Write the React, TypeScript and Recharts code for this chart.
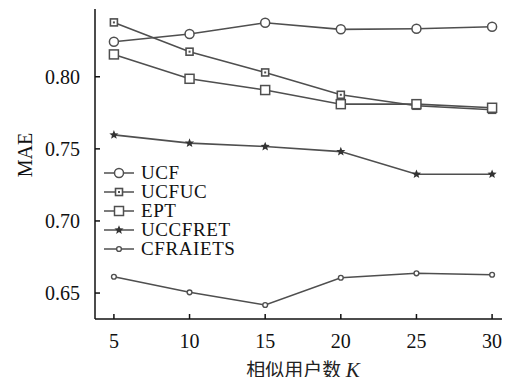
import React from "react";
import { LineChart, Line, XAxis, YAxis, Legend } from "recharts";

const kValues = [5, 10, 15, 20, 25, 30];
const ucf = [0.8243, 0.8297, 0.8375, 0.8329, 0.8333, 0.8347];
const ucfuc = [0.8377, 0.8174, 0.803, 0.7875, 0.7799, 0.7771];
const ept = [0.8155, 0.7986, 0.7908, 0.781, 0.781, 0.7785];
const uccfret = [0.7597, 0.754, 0.7516, 0.7481, 0.7324, 0.7324];
const cfraiets = [0.6613, 0.6505, 0.6417, 0.6606, 0.6637, 0.6627];

const yTicks = [0.65, 0.7, 0.75, 0.8];

type MarkerKind = "circle" | "boxdot" | "square" | "star" | "small";

const seriesList: { key: string; name: string; values: number[]; marker: MarkerKind }[] = [
  { key: "ucf", name: "UCF", values: ucf, marker: "circle" },
  { key: "ucfuc", name: "UCFUC", values: ucfuc, marker: "boxdot" },
  { key: "ept", name: "EPT", values: ept, marker: "square" },
  { key: "uccfret", name: "UCCFRET", values: uccfret, marker: "star" },
  { key: "cfraiets", name: "CFRAIETS", values: cfraiets, marker: "small" },
];

const data = kValues.map((k, i) => {
  const row: Record<string, number> = { k };
  seriesList.forEach((s) => {
    row[s.key] = s.values[i];
  });
  return row;
});

const LINE = "#4f4f4f";
const SERIF = "'Liberation Serif', 'Times New Roman', serif";

function starPath(cx: number, cy: number, ro: number, ri: number) {
  const pts: string[] = [];
  for (let i = 0; i < 10; i++) {
    const r = i % 2 === 0 ? ro : ri;
    const a = -Math.PI / 2 + (i * Math.PI) / 5;
    pts.push(`${cx + r * Math.cos(a)},${cy + r * Math.sin(a)}`);
  }
  return `M${pts.join("L")}Z`;
}

function Marker({ cx, cy, kind }: { cx: number; cy: number; kind: MarkerKind }) {
  switch (kind) {
    case "circle":
      return <circle cx={cx} cy={cy} r={4.5} fill="#fff" stroke={LINE} strokeWidth={1.5} />;
    case "boxdot":
      return (
        <g>
          <rect x={cx - 3.5} y={cy - 3.5} width={7} height={7} fill="#fff" stroke={LINE} strokeWidth={1.6} />
          <rect x={cx - 1} y={cy - 1} width={2} height={2} fill={LINE} />
        </g>
      );
    case "square":
      return <rect x={cx - 4.5} y={cy - 4.5} width={9} height={9} fill="#fff" stroke={LINE} strokeWidth={1.5} />;
    case "star":
      return <path d={starPath(cx, cy, 4.8, 2.1)} fill="#333" />;
    default:
      return <circle cx={cx} cy={cy} r={2.4} fill="#fff" stroke={LINE} strokeWidth={1.4} />;
  }
}

function LegendBox() {
  return (
    <div style={{ fontFamily: SERIF, fontSize: 19, color: "#111", textAlign: "left" }}>
      {seriesList.map((s) => (
        <div key={s.key} style={{ display: "flex", alignItems: "center", height: 19 }}>
          <svg width={36} height={12} style={{ marginRight: 3 }}>
            <line x1={2} y1={6} x2={32} y2={6} stroke={LINE} strokeWidth={1.5} />
            <Marker cx={17} cy={6} kind={s.marker} />
          </svg>
          <span style={{ lineHeight: "19px", letterSpacing: 0.6 }}>{s.name}</span>
        </div>
      ))}
    </div>
  );
}

export default function App() {
  return (
    <div style={{ margin: -8, width: 520, height: 385, background: "#fff" }}>
      <LineChart
        width={520}
        height={385}
        data={data}
        margin={{ top: 9, right: 9, bottom: 0, left: 0 }}
      >
        <XAxis
          dataKey="k"
          type="number"
          domain={[3.75, 31.25]}
          ticks={kValues}
          tickSize={-5}
          tickMargin={20}
          stroke="#111"
          strokeWidth={1.5}
          tick={{ fill: "#111", fontSize: 20, fontFamily: SERIF }}
          height={66}
          label={() => (
            <text
              x={303}
              y={377}
              textAnchor="middle"
              fill="#222"
              fontSize={19}
              fontFamily="'Noto Sans CJK SC', sans-serif"
            >
              相似用户数{" "}
              <tspan fontFamily={SERIF} fontStyle="italic" fontSize={21}>
                K
              </tspan>
            </text>
          )}
        />
        <XAxis
          xAxisId="top"
          orientation="top"
          dataKey="k"
          type="number"
          domain={[3.75, 31.25]}
          tick={false}
          tickLine={false}
          height={0}
          stroke="#111"
          strokeWidth={1.5}
        />
        <YAxis
          type="number"
          domain={[0.632, 0.847]}
          ticks={yTicks}
          tickSize={-5}
          tickMargin={20}
          width={95}
          allowDataOverflow
          stroke="#111"
          strokeWidth={1.5}
          tickFormatter={(v: number) => v.toFixed(2)}
          tick={{ fill: "#111", fontSize: 20, fontFamily: SERIF }}
          label={() => (
            <text
              x={25}
              y={155}
              transform="rotate(-90 25 155)"
              textAnchor="middle"
              dominantBaseline="central"
              fill="#111"
              fontSize={20}
              fontFamily={SERIF}
            >
              MAE
            </text>
          )}
        />
        <Legend
          content={() => <LegendBox />}
          layout="vertical"
          align="center"
          verticalAlign="middle"
          wrapperStyle={{ position: "absolute", top: 163, left: 102, width: 150 }}
        />
        {seriesList.map((s) => (
          <Line
            key={s.key}
            dataKey={s.key}
            name={s.name}
            stroke={LINE}
            strokeWidth={1.6}
            isAnimationActive={false}
            dot={(p: any) => (
              <g key={`${s.key}-${p.index}`}>
                <Marker cx={p.cx} cy={p.cy} kind={s.marker} />
              </g>
            )}
            activeDot={false}
          />
        ))}
      </LineChart>
    </div>
  );
}
